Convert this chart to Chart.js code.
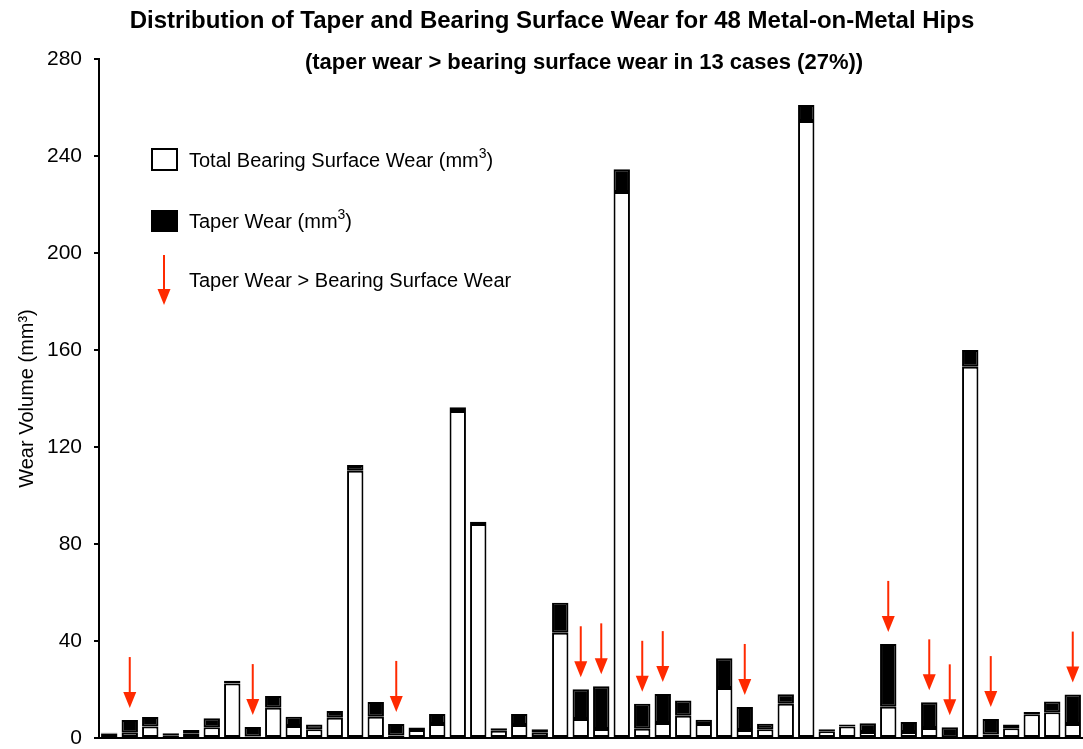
<!DOCTYPE html>
<html>
<head>
<meta charset="utf-8">
<script src="https://cdn.jsdelivr.net/npm/chart.js@4.4.0/dist/chart.umd.min.js"></script>
<style>
  html, body { margin: 0; padding: 0; background: #fff; }
  #wrap { width: 1083px; height: 749px; }
</style>
</head>
<body>
<div id="wrap"><canvas id="wearChart"></canvas></div>
<script>
// one entry per hip, in the order they were retrieved
const hips = Array.from({ length: 48 }, (_, i) => 'Hip ' + (i + 1));

// total bearing surface wear, mm3
const bearingWear = [
  1.9, 2.2, 4.7, 1.1, 1.8, 4.4, 22.5, 0.6, 12.5, 4.9, 3.6, 8.4,
  110.2, 8.8, 1.0, 3.3, 5.8, 134.8, 88.2, 3.0, 5.4, 2.2, 43.4, 7.8,
  3.7, 225.2, 3.8, 6.2, 9.2, 5.8, 20.6, 3.3, 3.6, 14.1, 254.4, 2.8,
  4.7, 2.5, 12.9, 2.5, 4.1, 0.3, 153.1, 1.4, 4.0, 9.8, 10.6, 5.8
];

// taper wear, mm3 (stacked on top of the bearing wear)
const taperWear = [
  0.3, 5.2, 4.0, 0.9, 1.5, 3.7, 1.1, 3.9, 4.8, 3.9, 2.0, 2.7,
  2.4, 6.0, 4.8, 1.0, 4.1, 1.6, 1.0, 1.0, 4.5, 1.4, 12.4, 12.3,
  17.6, 9.3, 10.3, 11.9, 6.3, 1.7, 12.3, 9.5, 2.3, 3.9, 6.6, 0.8,
  0.9, 3.6, 25.9, 4.1, 10.6, 4.1, 6.9, 6.4, 1.6, 0.9, 4.5, 12.1
];

// hips where taper wear > bearing surface wear (13 cases)
const taperExceeds = [
  0, 1, 0, 0, 0, 0, 0, 1, 0, 0, 0, 0,
  0, 0, 1, 0, 0, 0, 0, 0, 0, 0, 0, 1,
  1, 0, 1, 1, 0, 0, 0, 1, 0, 0, 0, 0,
  0, 0, 1, 0, 1, 1, 0, 1, 0, 0, 0, 1
];

const yMax = 280;
const yStep = 40;

const RED = '#ff2a00';
const FONT = '"Liberation Sans", Arial, sans-serif';

function drawArrow(ctx, x, yTop, yTip) {
  const head = 16, halfW = 6.5;
  ctx.save();
  ctx.strokeStyle = RED;
  ctx.lineWidth = 2;
  ctx.beginPath();
  ctx.moveTo(x, yTop);
  ctx.lineTo(x, yTip - head + 1);
  ctx.stroke();
  ctx.fillStyle = RED;
  ctx.beginPath();
  ctx.moveTo(x - halfW, yTip - head);
  ctx.lineTo(x + halfW, yTip - head);
  ctx.lineTo(x, yTip);
  ctx.closePath();
  ctx.fill();
  ctx.restore();
}

// text with a raised "3" for the mm3 unit
function drawUnitText(ctx, before, sup, after, x, y, size) {
  ctx.font = size + 'px ' + FONT;
  ctx.fillText(before, x, y);
  let w = ctx.measureText(before).width;
  ctx.font = Math.round(size * 0.68) + 'px ' + FONT;
  ctx.fillText(sup, x + w, y - size * 0.36);
  w += ctx.measureText(sup).width;
  ctx.font = size + 'px ' + FONT;
  ctx.fillText(after, x + w, y);
}

const arrowsPlugin = {
  id: 'arrows',
  afterDatasetsDraw(chart) {
    const meta = chart.getDatasetMeta(1);
    taperExceeds.forEach((flag, i) => {
      if (!flag) return;
      const bar = meta.data[i];
      const tip = bar.y - 12;
      drawArrow(chart.ctx, bar.x, tip - 51, tip);
    });
  }
};

const annotationsPlugin = {
  id: 'annotations',
  afterDraw(chart) {
    const ctx = chart.ctx;
    ctx.save();
    ctx.fillStyle = '#000';
    ctx.textBaseline = 'middle';
    ctx.textAlign = 'center';
    ctx.font = 'bold 24px ' + FONT;
    ctx.fillText('Distribution of Taper and Bearing Surface Wear for 48 Metal-on-Metal Hips', 552, 21);
    ctx.font = 'bold 22px ' + FONT;
    ctx.fillText('(taper wear > bearing surface wear in 13 cases (27%))', 584, 63);

    // legend
    ctx.textAlign = 'left';
    ctx.fillStyle = '#fff';
    ctx.fillRect(152, 149, 25, 21);
    ctx.strokeStyle = '#000';
    ctx.lineWidth = 2;
    ctx.strokeRect(152, 149, 25, 21);
    ctx.fillStyle = '#000';
    ctx.fillRect(151, 210, 27, 22);

    drawUnitText(ctx, 'Total Bearing Surface Wear (mm', '3', ')', 189, 161, 20);
    drawUnitText(ctx, 'Taper Wear (mm', '3', ')', 189, 222, 20);
    ctx.font = '20px ' + FONT;
    ctx.fillText('Taper Wear > Bearing Surface Wear', 189, 281);
    drawArrow(ctx, 164, 255, 305);
    ctx.restore();
  }
};

new Chart(document.getElementById('wearChart'), {
  type: 'bar',
  data: {
    labels: hips,
    datasets: [
      {
        label: 'Total Bearing Surface Wear (mm³)',
        data: bearingWear,
        backgroundColor: '#fff',
        borderColor: '#000',
        borderWidth: 2,
        borderSkipped: false
      },
      {
        label: 'Taper Wear (mm³)',
        data: taperWear,
        backgroundColor: '#000',
        borderColor: '#000',
        borderWidth: 2,
        borderSkipped: false
      }
    ]
  },
  options: {
    responsive: true,
    maintainAspectRatio: false,
    animation: false,
    layout: { padding: { top: 59, right: 0, bottom: 0, left: 0 } },
    datasets: { bar: { barPercentage: 0.8, categoryPercentage: 1 } },
    plugins: {
      legend: { display: false },
      title: { display: false },
      tooltip: { enabled: false }
    },
    scales: {
      x: {
        stacked: true,
        ticks: { display: false },
        grid: { display: false, drawTicks: false },
        border: { display: true, color: '#000', width: 2 },
        afterFit: (s) => { s.height = 0; }
      },
      y: {
        stacked: true,
        min: 0,
        max: yMax,
        ticks: {
          stepSize: yStep,
          color: '#000',
          padding: 12,
          font: { family: FONT, size: 21, lineHeight: 1 }
        },
        grid: { drawOnChartArea: false, drawTicks: true, tickLength: 5, color: '#000', lineWidth: 2 },
        border: { display: true, color: '#000', width: 2 },
        title: {
          display: true,
          text: 'Wear Volume (mm³)',
          color: '#000',
          font: { family: FONT, size: 20 },
          padding: { top: 15, bottom: 0 }
        },
        // fixed axis width; keep the tick padding from pushing the plot up
        afterFit: (s) => {
          s.width = 99;
          s.paddingTop = 0;
          s.paddingBottom = 11;
        }
      }
    }
  },
  plugins: [arrowsPlugin, annotationsPlugin]
});
</script>
</body>
</html>
